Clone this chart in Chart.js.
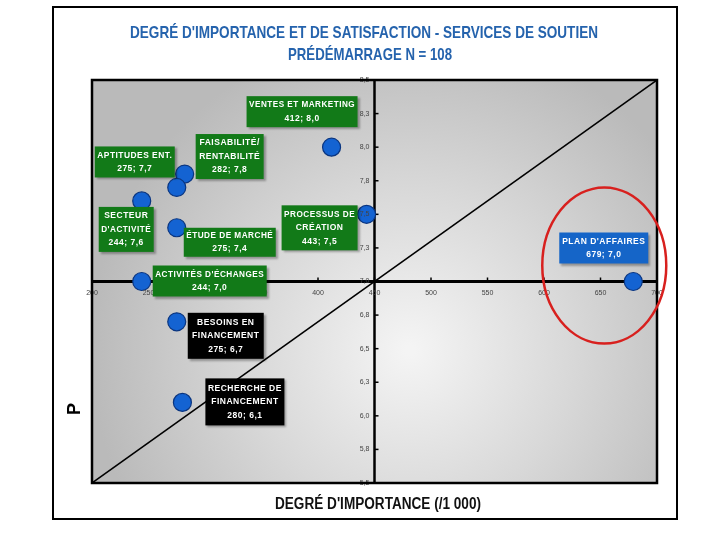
<!DOCTYPE html>
<html><head><meta charset="utf-8">
<script src="https://cdn.jsdelivr.net/npm/chart.js@4.4.1/dist/chart.umd.min.js"></script>
<style>html,body{margin:0;padding:0;background:#fff}#wrap{width:720px;height:540px;position:relative}</style>
</head><body><div id="wrap"><canvas id="c" width="720" height="540"></canvas></div>
<script>
// ---- DATA ----
const categories = [
  ["VENTES ET MARKETING"],
  ["FAISABILITÉ/", "RENTABILITÉ"],
  ["APTITUDES ENT."],
  ["SECTEUR", "D'ACTIVITÉ"],
  ["ÉTUDE DE MARCHÉ"],
  ["PROCESSUS DE", "CRÉATION"],
  ["ACTIVITÉS D'ÉCHANGES"],
  ["BESOINS EN", "FINANCEMENT"],
  ["RECHERCHE DE", "FINANCEMENT"],
  ["PLAN D'AFFAIRES"]
];
const importance   = [412, 282, 275, 244, 275, 443, 244, 275, 280, 679];
const satisfaction = [8.0, 7.8, 7.7, 7.6, 7.4, 7.5, 7.0, 6.7, 6.1, 7.0];
const xTickValues = [200, 250, 300, 350, 400, 450, 500, 550, 600, 650, 700];
const yTickValues = [5.5, 5.75, 6.0, 6.25, 6.5, 6.75, 7.0, 7.25, 7.5, 7.75, 8.0, 8.25, 8.5];
const titleLines = ["DEGRÉ D'IMPORTANCE ET DE SATISFACTION - SERVICES DE SOUTIEN", "PRÉDÉMARRAGE N = 108"];
const xTitle = "DEGRÉ D'IMPORTANCE (/1 000)";
const yTitle = "P";

// ---- STYLE / LAYOUT (relative to each point, in px) ----
const boxLayout = [
  [-85, -51, 111, 31], [11, -40, 68, 45], [-82, -41, 80, 31], [-43, 6, 55, 45],
  [7, 0, 92, 29], [-85, -9, 76, 45], [11, -16, 114, 31], [11, -9, 76, 46],
  [23, -24, 79, 47], [-74, -49, 89, 31]
];
const boxColors = ['#127a18','#127a18','#127a18','#127a18','#127a18','#127a18','#127a18','#000000','#000000','#1565c8'];

const fmt = v => v.toFixed(1).replace('.', ',');
const fmtTick = v => (Math.round(v * 10) / 10).toFixed(1).replace('.', ',');

function fitText(ctx, text, cx, by, font, width, color) {
  ctx.save();
  ctx.font = font;
  const w = ctx.measureText(text).width;
  ctx.translate(cx, by);
  ctx.scale(width / w, 1);
  ctx.textAlign = 'center';
  ctx.textBaseline = 'alphabetic';
  ctx.fillStyle = color;
  ctx.fillText(text, 0, 0);
  ctx.restore();
}

const decor = {
  id: 'decor',
  beforeDraw(chart) {
    const ctx = chart.ctx, a = chart.chartArea;
    ctx.save();
    ctx.fillStyle = '#fff';
    ctx.fillRect(0, 0, chart.width, chart.height);
    ctx.lineWidth = 2;
    ctx.strokeStyle = '#000';
    ctx.strokeRect(53, 7, 624, 512);
    const g = ctx.createRadialGradient(410, 350, 5, 410, 350, 320);
    g.addColorStop(0, '#f4f4f4');
    g.addColorStop(0.5, '#d8d8d8');
    g.addColorStop(1, '#bababa');
    ctx.fillStyle = g;
    ctx.fillRect(a.left, a.top, a.right - a.left, a.bottom - a.top);
    ctx.restore();
  },
  beforeDatasetsDraw(chart) {
    const ctx = chart.ctx, a = chart.chartArea;
    const xs = chart.scales.x, ys = chart.scales.y;
    const cx = xs.getPixelForValue(450), cy = ys.getPixelForValue(7.0);
    ctx.save();
    ctx.strokeStyle = '#000';
    ctx.lineWidth = 3;
    ctx.beginPath(); ctx.moveTo(a.left, cy); ctx.lineTo(a.right, cy); ctx.stroke();
    ctx.lineWidth = 2.5;
    ctx.beginPath(); ctx.moveTo(cx, a.top); ctx.lineTo(cx, a.bottom); ctx.stroke();
    ctx.lineWidth = 1.5;
    yTickValues.forEach(v => {
      const y = ys.getPixelForValue(v);
      ctx.beginPath(); ctx.moveTo(cx, y); ctx.lineTo(cx + 4, y); ctx.stroke();
    });
    xTickValues.forEach(v => {
      const x = xs.getPixelForValue(v);
      ctx.beginPath(); ctx.moveTo(x, cy); ctx.lineTo(x, cy - 4); ctx.stroke();
    });
    ctx.restore();
  },
  afterDatasetsDraw(chart) {
    const ctx = chart.ctx, a = chart.chartArea;
    const xs = chart.scales.x, ys = chart.scales.y;
    const cx = xs.getPixelForValue(450), cy = ys.getPixelForValue(7.0);
    ctx.save();
    ctx.font = '7px "Liberation Sans", Arial, sans-serif';
    ctx.fillStyle = '#444';
    ctx.textAlign = 'right'; ctx.textBaseline = 'middle';
    yTickValues.forEach(v => ctx.fillText(fmtTick(v), cx - 5, ys.getPixelForValue(v)));
    ctx.textAlign = 'center'; ctx.textBaseline = 'top';
    xTickValues.forEach(v => ctx.fillText(String(v), xs.getPixelForValue(v), cy + 8));
    ctx.lineWidth = 2.5; ctx.strokeStyle = '#000';
    ctx.strokeRect(a.left, a.top, a.right - a.left, a.bottom - a.top);
    importance.forEach((xv, i) => {
      const px = xs.getPixelForValue(xv), py = ys.getPixelForValue(satisfaction[i]);
      const [dx, dy, w, h] = boxLayout[i];
      const bx = px + dx, by = py + dy;
      ctx.save();
      ctx.shadowColor = 'rgba(0,0,0,0.3)'; ctx.shadowOffsetX = 2; ctx.shadowOffsetY = 2; ctx.shadowBlur = 2;
      ctx.fillStyle = boxColors[i];
      ctx.fillRect(bx, by, w, h);
      ctx.restore();
      const lines = categories[i].concat([xv + '; ' + fmt(satisfaction[i])]);
      const lh = 13.5;
      const top = by + h / 2 - (lines.length * lh) / 2 + lh / 2;
      ctx.fillStyle = '#fff';
      ctx.font = 'bold 8.5px "Liberation Sans", Arial, sans-serif';
      ctx.letterSpacing = '0.5px';
      ctx.textAlign = 'center'; ctx.textBaseline = 'middle';
      lines.forEach((t, k) => {
        const tw = ctx.measureText(t).width;
        const maxW = w - 5;
        ctx.save();
        ctx.translate(bx + w / 2, top + k * lh);
        if (tw > maxW) ctx.scale(maxW / tw, 1);
        ctx.fillText(t, 0, 0);
        ctx.restore();
      });
      ctx.letterSpacing = '0px';
    });
    const lp = importance.length - 1;
    const ex = xs.getPixelForValue(importance[lp]) - 29, ey = ys.getPixelForValue(satisfaction[lp]) - 16;
    ctx.strokeStyle = '#d8201e'; ctx.lineWidth = 2.5;
    ctx.beginPath(); ctx.ellipse(ex, ey, 62, 78, 0, 0, Math.PI * 2); ctx.stroke();
    fitText(ctx, titleLines[0], 364, 38, 'bold 17px "Liberation Sans Narrow", "Liberation Sans", sans-serif', 468, '#2563ad');
    fitText(ctx, titleLines[1], 370, 60, 'bold 17px "Liberation Sans Narrow", "Liberation Sans", sans-serif', 164, '#2563ad');
    fitText(ctx, xTitle, 378, 509, 'bold 16px "Liberation Sans Narrow", "Liberation Sans", sans-serif', 206, '#111');
    ctx.save();
    ctx.translate(80, 409); ctx.rotate(-Math.PI / 2);
    ctx.font = 'bold 18px "Liberation Sans", Arial, sans-serif';
    ctx.fillStyle = '#000'; ctx.textAlign = 'center'; ctx.textBaseline = 'alphabetic';
    ctx.fillText(yTitle, 0, 0);
    ctx.restore();
    ctx.restore();
  }
};

new Chart(document.getElementById('c'), {
  type: 'scatter',
  data: {
    datasets: [
      {
        type: 'line', order: 2,
        data: [{x: xTickValues[0], y: yTickValues[0]}, {x: xTickValues[xTickValues.length - 1], y: yTickValues[yTickValues.length - 1]}],
        borderColor: '#000', borderWidth: 1.5, pointRadius: 0, fill: false
      },
      {
        type: 'scatter', order: 1,
        data: importance.map((x, i) => ({x, y: satisfaction[i]})),
        backgroundColor: '#1463d2', borderColor: '#0a3580', borderWidth: 1.2,
        pointRadius: 9, pointHoverRadius: 9
      }
    ]
  },
  options: {
    responsive: false, animation: false, devicePixelRatio: 1,
    layout: { padding: { left: 92, top: 80, right: 63, bottom: 57 } },
    plugins: { legend: { display: false }, tooltip: { enabled: false }, title: { display: false } },
    scales: {
      x: { type: 'linear', min: 200, max: 700, display: false },
      y: { type: 'linear', min: 5.5, max: 8.5, display: false }
    }
  },
  plugins: [decor]
});
</script></body></html>
